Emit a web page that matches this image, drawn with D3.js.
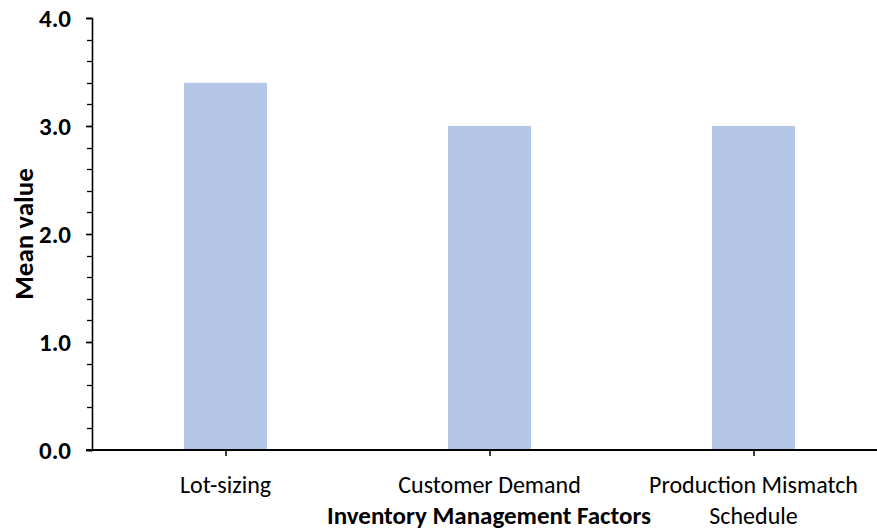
<!DOCTYPE html>
<html>
<head>
<meta charset="utf-8">
<script src="https://cdn.jsdelivr.net/npm/d3@7"></script>
<style>
  body { margin: 0; background: #fff; }
  svg { display: block; font-family: Carlito, Lato, "Open Sans", sans-serif; }
</style>
</head>
<body>
<svg id="chart" width="877" height="530"></svg>
<script>
// Mean value per inventory management factor
const categories = ["Lot-sizing", "Customer Demand", "Production Mismatch Schedule"];
const categoryLines = [["Lot-sizing"], ["Customer Demand"], ["Production Mismatch", "Schedule"]];
const meanValues = [3.4, 3.0, 3.0];
const yTicks = [0, 1, 2, 3, 4];
const yMinorTicks = d3.range(0, 4.001, 0.2);

const svg = d3.select("#chart");
const plotLeft = 92, plotTop = 18, plotBottom = 450;
const barWidth = 83;

const xc = d3.scalePoint().domain(categories).range([93.5, 885.5]).padding(0.5);
const y = d3.scaleLinear().domain([0, 4]).range([plotBottom, plotTop]);

// bars
svg.append("g").selectAll("rect")
  .data(categories)
  .join("rect")
  .attr("x", (d) => xc(d) - barWidth / 2)
  .attr("width", barWidth)
  .attr("y", (d, i) => y(meanValues[i]))
  .attr("height", (d, i) => plotBottom - y(meanValues[i]))
  .attr("fill", "#b4c7e7");

// minor ticks on the value axis
svg.append("g").selectAll("line")
  .data(yMinorTicks)
  .join("line")
  .attr("x1", plotLeft - 5).attr("x2", plotLeft)
  .attr("y1", (d) => Math.round(y(d)) + 0.5).attr("y2", (d) => Math.round(y(d)) + 0.5)
  .attr("stroke", "#000").attr("stroke-width", 1.3);

// value axis
const yAxis = svg.append("g").attr("transform", `translate(${plotLeft},0)`)
  .call(d3.axisLeft(y).tickValues(yTicks).tickFormat(d3.format(".1f")).tickSize(6).tickPadding(15));
yAxis.select(".domain").attr("stroke", "#000").attr("stroke-width", 1.6);
yAxis.selectAll(".tick line").attr("stroke", "#000").attr("stroke-width", 1.5);
yAxis.selectAll(".tick text")
  .attr("font-family", "Carlito, Lato, 'Open Sans', sans-serif")
  .attr("font-size", 25).attr("font-weight", "bold").attr("fill", "#000");

// category axis
const xAxis = svg.append("g").attr("transform", `translate(0,${plotBottom})`)
  .call(d3.axisBottom(xc).tickSize(6).tickFormat(""));
xAxis.select(".domain").attr("d", `M${plotLeft - 6},0H877`).attr("stroke", "#000").attr("stroke-width", 2);
xAxis.selectAll(".tick line").attr("stroke", "#000").attr("stroke-width", 1.5);

// category labels
svg.append("g").selectAll("text")
  .data(categories)
  .join("text")
  .attr("x", (d) => xc(d))
  .attr("y", 493)
  .attr("text-anchor", "middle")
  .attr("font-size", 24)
  .attr("fill", "#000")
  .each(function (d, i) {
    const t = d3.select(this);
    categoryLines[i].forEach((line, j) => {
      t.append("tspan").attr("x", xc(d)).attr("dy", j === 0 ? 0 : 31).text(line);
    });
  });

// axis titles
svg.append("text")
  .attr("x", 489).attr("y", 524)
  .attr("text-anchor", "middle")
  .attr("font-size", 25).attr("font-weight", "bold")
  .text("Inventory Management Factors");

svg.append("text")
  .attr("transform", `translate(33,${(plotTop + plotBottom) / 2}) rotate(-90)`)
  .attr("text-anchor", "middle")
  .attr("font-size", 27).attr("font-weight", "bold")
  .text("Mean value");
</script>
</body>
</html>
